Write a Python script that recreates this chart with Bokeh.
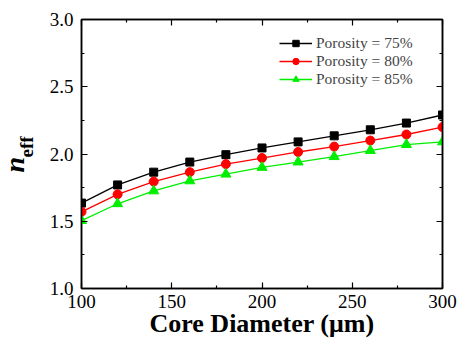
import math
from bokeh.plotting import figure
from bokeh.models import (Range1d, LinearAxis, Title, Legend, LegendItem, FixedTicker,
                          PrintfTickFormatter, CustomLabelingPolicy)
from bokeh.embed import file_html
from bokeh.resources import INLINE

diameter = [100, 120, 140, 160, 180, 200, 220, 240, 260, 280, 300]
neff_75 = [1.635, 1.77, 1.865, 1.94, 1.995, 2.045, 2.09, 2.135, 2.18, 2.23, 2.29]
neff_80 = [1.57, 1.70, 1.795, 1.865, 1.925, 1.97, 2.015, 2.055, 2.10, 2.145, 2.20]
neff_85 = [1.505, 1.63, 1.725, 1.80, 1.85, 1.90, 1.94, 1.98, 2.025, 2.07, 2.09]
series_labels = ["Porosity = 75%", "Porosity = 80%", "Porosity = 85%"]
x_ticks = [100, 150, 200, 250, 300]
y_ticks = [1.0, 1.5, 2.0, 2.5, 3.0]

FONT = "Liberation Serif"

p = figure(width=458, height=340, output_backend="svg", toolbar_location=None,
           x_range=Range1d(100, 300), y_range=Range1d(1.0, 3.0),
           min_border_left=81, min_border_right=16, min_border_top=19, min_border_bottom=51)
p.background_fill_color = "white"
p.border_fill_color = "white"
p.grid.visible = False
p.outline_line_color = "black"
p.outline_line_width = 1.5

hide_policy = CustomLabelingPolicy(code="""
for (const i of indices) { indices.unset(i) }
return indices
""")

def style_axis(ax, labels=True):
    ax.axis_line_width = 1.5
    ax.axis_line_color = "black"
    ax.major_tick_in = 6
    ax.major_tick_out = 0
    ax.minor_tick_in = 3
    ax.minor_tick_out = 0
    ax.major_tick_line_width = 1.2
    ax.minor_tick_line_width = 1.2
    ax.major_label_text_font = FONT
    ax.major_label_text_font_size = "19px"
    ax.major_label_text_color = "black"
    if not labels:
        ax.major_label_policy = hide_policy
        ax.major_label_text_font_size = "0px"
        ax.major_label_standoff = 0

xax = p.xaxis[0]
yax = p.yaxis[0]
xax.ticker = FixedTicker(ticks=x_ticks, minor_ticks=[125, 175, 225, 275])
yax.ticker = FixedTicker(ticks=y_ticks, minor_ticks=[1.25, 1.75, 2.25, 2.75])
yax.formatter = PrintfTickFormatter(format="%.1f")
style_axis(xax)
style_axis(yax)
xax.major_label_standoff = 6
yax.major_label_standoff = 8
xax.axis_label = "Core Diameter (\u03bcm)"
xax.axis_label_text_font = FONT
xax.axis_label_text_font_style = "bold"
xax.axis_label_text_font_size = "26px"
xax.axis_label_text_color = "black"
xax.axis_label_standoff = -2

rax = LinearAxis(ticker=FixedTicker(ticks=y_ticks, minor_ticks=[1.25, 1.75, 2.25, 2.75]))
tax = LinearAxis(ticker=FixedTicker(ticks=x_ticks, minor_ticks=[125, 175, 225, 275]))
style_axis(rax, labels=False)
style_axis(tax, labels=False)
p.add_layout(rax, "right")
p.add_layout(tax, "above")

# invisible spacer axis between the y tick labels and the n_eff label
spacer = LinearAxis(ticker=FixedTicker(ticks=[2.0], minor_ticks=[]))
spacer.axis_line_alpha = 0
spacer.major_tick_line_alpha = 0
spacer.minor_tick_line_alpha = 0
spacer.major_tick_in = 0
spacer.major_tick_out = 22
spacer.minor_tick_out = 0
spacer.major_label_policy = hide_policy
spacer.major_label_text_font_size = "0px"
spacer.major_label_standoff = 0
p.add_layout(spacer, "left")

colors = ["black", "red", "#00ee00"]
data = [neff_75, neff_80, neff_85]
items = []
for i, (ys, c, lab) in enumerate(zip(data, colors, series_labels)):
    ln = p.line(diameter, ys, line_color=c, line_width=1.3)
    if i == 0:
        mk = p.scatter(diameter, ys, marker="square", size=8, fill_color=c, line_color=c)
    elif i == 1:
        mk = p.scatter(diameter, ys, marker="circle", size=9, fill_color=c, line_color=c)
    else:
        mk = p.scatter(diameter, ys, marker="triangle", size=10, fill_color=c, line_color=c)
    items.append(LegendItem(label=lab, renderers=[ln, mk]))

legend = Legend(items=items, location=(198, 200))
legend.border_line_color = None
legend.background_fill_alpha = 0
legend.label_text_font = FONT
legend.label_text_font_size = "15.5px"
legend.glyph_width = 33
legend.glyph_height = 16
legend.label_standoff = 4
legend.spacing = 0
legend.padding = 4
legend.margin = 0
p.add_layout(legend)

# y-axis label n_eff built from two rotated titles on the left side
eff_title = Title(text="eff", align="left", offset=131, standoff=-24,
                  text_font=FONT, text_font_style="bold", text_font_size="19px",
                  text_color="black")
n_title = Title(text="n", align="left", offset=116, standoff=-10,
                text_font=FONT, text_font_style="bold italic", text_font_size="28px",
                text_color="black")
p.add_layout(eff_title, "left")
p.add_layout(n_title, "left")

open("out.html", "w").write(file_html(p, INLINE))
